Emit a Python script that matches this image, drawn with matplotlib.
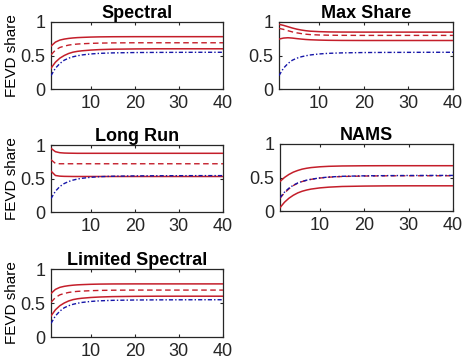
import matplotlib
matplotlib.use("Agg")
import matplotlib.pyplot as plt

plt.rcParams['font.family'] = ['Liberation Sans', 'DejaVu Sans']

h = [1, 2, 3, 4, 5, 6, 7, 8, 10, 12, 15, 20, 25, 30, 35, 40]

titles = ["Spectral", "Max Share", "Long Run", "NAMS", "Limited Spectral"]

# Spectral
spec_up   = [0.64, 0.70, 0.73, 0.745, 0.755, 0.762, 0.767, 0.770, 0.775, 0.778, 0.780, 0.781, 0.781, 0.781, 0.781, 0.781]
spec_med  = [0.51, 0.58, 0.62, 0.640, 0.655, 0.665, 0.671, 0.675, 0.681, 0.685, 0.688, 0.690, 0.690, 0.690, 0.690, 0.690]
spec_lo   = [0.31, 0.40, 0.46, 0.500, 0.530, 0.550, 0.562, 0.570, 0.581, 0.588, 0.594, 0.598, 0.600, 0.600, 0.600, 0.600]
true_vals = [0.20, 0.31, 0.38, 0.430, 0.460, 0.481, 0.496, 0.508, 0.523, 0.532, 0.539, 0.544, 0.546, 0.547, 0.548, 0.548]

# Max Share
ms_up  = [0.965, 0.950, 0.930, 0.910, 0.893, 0.880, 0.870, 0.863, 0.856, 0.852, 0.850, 0.849, 0.849, 0.849, 0.849, 0.849]
ms_med = [0.905, 0.890, 0.870, 0.852, 0.838, 0.827, 0.818, 0.812, 0.806, 0.803, 0.801, 0.800, 0.800, 0.800, 0.800, 0.800]
ms_lo  = [0.745, 0.760, 0.765, 0.760, 0.752, 0.745, 0.739, 0.735, 0.730, 0.727, 0.725, 0.724, 0.724, 0.724, 0.724, 0.724]

# Long Run
lr_up  = [0.950, 0.900, 0.885, 0.880, 0.878, 0.877, 0.876, 0.876, 0.876, 0.876, 0.876, 0.876, 0.876, 0.876, 0.876, 0.876]
lr_med = [0.780, 0.725, 0.720, 0.720, 0.720, 0.720, 0.720, 0.720, 0.720, 0.720, 0.720, 0.720, 0.720, 0.720, 0.720, 0.720]
lr_lo  = [0.610, 0.545, 0.535, 0.532, 0.531, 0.530, 0.530, 0.530, 0.530, 0.530, 0.530, 0.530, 0.530, 0.530, 0.530, 0.530]
lr_true = [0.20, 0.31, 0.38, 0.425, 0.455, 0.476, 0.492, 0.503, 0.518, 0.527, 0.534, 0.539, 0.541, 0.542, 0.543, 0.543]

# NAMS
na_up  = [0.44, 0.50, 0.545, 0.580, 0.605, 0.625, 0.638, 0.648, 0.660, 0.667, 0.672, 0.675, 0.676, 0.676, 0.676, 0.676]
na_med = [0.19, 0.27, 0.330, 0.380, 0.415, 0.440, 0.458, 0.472, 0.492, 0.505, 0.515, 0.522, 0.525, 0.526, 0.526, 0.526]
na_lo  = [0.05, 0.13, 0.190, 0.235, 0.270, 0.295, 0.313, 0.327, 0.345, 0.356, 0.366, 0.372, 0.375, 0.376, 0.376, 0.376]
na_true = [0.20, 0.28, 0.340, 0.385, 0.418, 0.442, 0.460, 0.474, 0.494, 0.507, 0.518, 0.525, 0.528, 0.530, 0.531, 0.531]

# Limited Spectral
ls_up  = [0.64, 0.70, 0.73, 0.745, 0.755, 0.762, 0.767, 0.770, 0.775, 0.778, 0.780, 0.781, 0.781, 0.781, 0.781, 0.781]
ls_med = [0.51, 0.58, 0.62, 0.640, 0.655, 0.665, 0.671, 0.675, 0.681, 0.685, 0.688, 0.690, 0.690, 0.690, 0.690, 0.690]
ls_lo  = [0.31, 0.40, 0.46, 0.500, 0.530, 0.550, 0.562, 0.570, 0.581, 0.588, 0.594, 0.598, 0.600, 0.600, 0.600, 0.600]

panels = [
    (spec_up, spec_med, spec_lo, true_vals),
    (ms_up, ms_med, ms_lo, true_vals),
    (lr_up, lr_med, lr_lo, lr_true),
    (na_up, na_med, na_lo, na_true),
    (ls_up, ls_med, ls_lo, true_vals),
]

xticks = [10, 20, 30, 40]
yticks = [0, 0.5, 1]
yticklabels = ["0", "0.5", "1"]

W, H = 463, 361
# axes boxes in pixels: left, top, right, bottom
boxes = [
    (51, 22, 223, 89),
    (279, 22, 453, 89),
    (51, 145, 223, 212),
    (280, 144, 453, 211),
    (51, 269, 223, 337),
]

red = '#c41e2a'
blue = '#1515a8'
frame = '#262626'

fig = plt.figure(figsize=(W / 100, H / 100), dpi=100)
for i, ((l, t, r, b), (up, med, lo, tr), title) in enumerate(zip(boxes, panels, titles)):
    ax = fig.add_axes([l / W, 1 - b / H, (r - l) / W, (b - t) / H])
    ax.plot(h, up, color=red, lw=1.1, zorder=3)
    ax.plot(h, lo, color=red, lw=1.1, zorder=3)
    ax.plot(h, med, color=red, lw=1.0, ls=(0, (4, 2.5)), zorder=3)
    ax.plot(h, tr, color=blue, lw=1.0, ls=(0, (3, 1.5, 1, 1.5)), zorder=4)
    ax.set_xlim(1, 40)
    ax.set_ylim(0, 1)
    ax.set_xticks(xticks)
    ax.set_yticks(yticks)
    ax.set_yticklabels(yticklabels)
    ax.tick_params(direction='in', length=2.5, width=0.8, top=True, right=True,
                   labelsize=13, colors=frame, pad=4)
    for s in ax.spines.values():
        s.set_color(frame)
        s.set_linewidth(0.9)
    ax.set_title(title, fontsize=13, fontweight='bold', pad=3)
    if i % 2 == 0:
        ax.set_ylabel("FEVD share", fontsize=11, labelpad=1)

fig.savefig("out.png", dpi=100)
